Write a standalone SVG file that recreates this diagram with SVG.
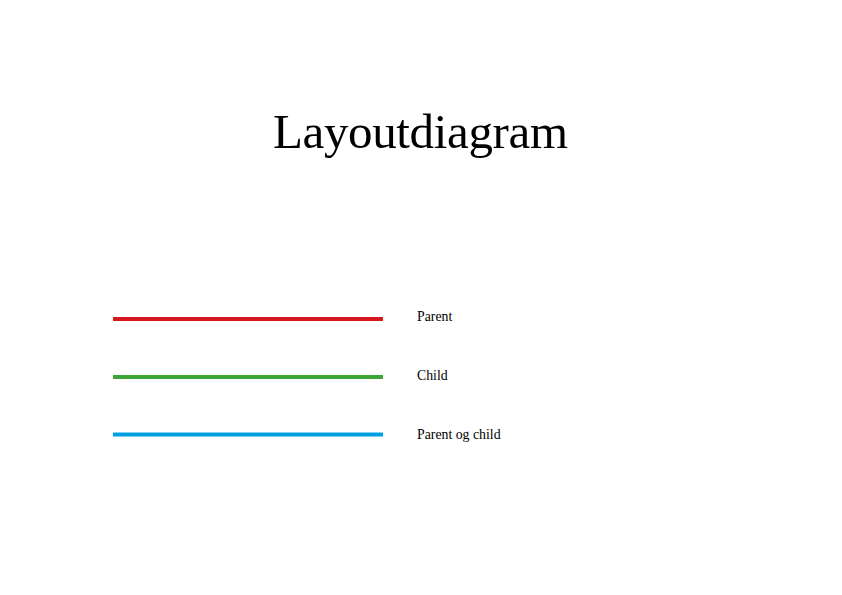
<svg xmlns="http://www.w3.org/2000/svg" width="842" height="595" viewBox="0 0 842 595">
<style>
text{font-family:"Liberation Serif","Times New Roman",serif;fill:#000}
.lbl{font-size:13.8px}
.ln{stroke-width:4;fill:none}
</style>
<rect width="842" height="595" fill="#fff"/>
<g id="title"><text x="273" y="148" font-size="49" textLength="295">Layoutdiagram</text></g>
<g id="connectors">
<line class="ln" x1="113" y1="319" x2="383" y2="319" stroke="#d7191f"/>
<line class="ln" x1="113" y1="377" x2="383" y2="377" stroke="#3fa535"/>
<line class="ln" x1="113" y1="434.5" x2="383" y2="434.5" stroke="#009fe3"/>
</g>
<g id="legend-parent"><text class="lbl" x="417" y="321">Parent</text></g>
<g id="legend-child"><text class="lbl" x="417" y="380">Child</text></g>
<g id="legend-both"><text class="lbl" x="417" y="439">Parent og child</text></g>
</svg>
